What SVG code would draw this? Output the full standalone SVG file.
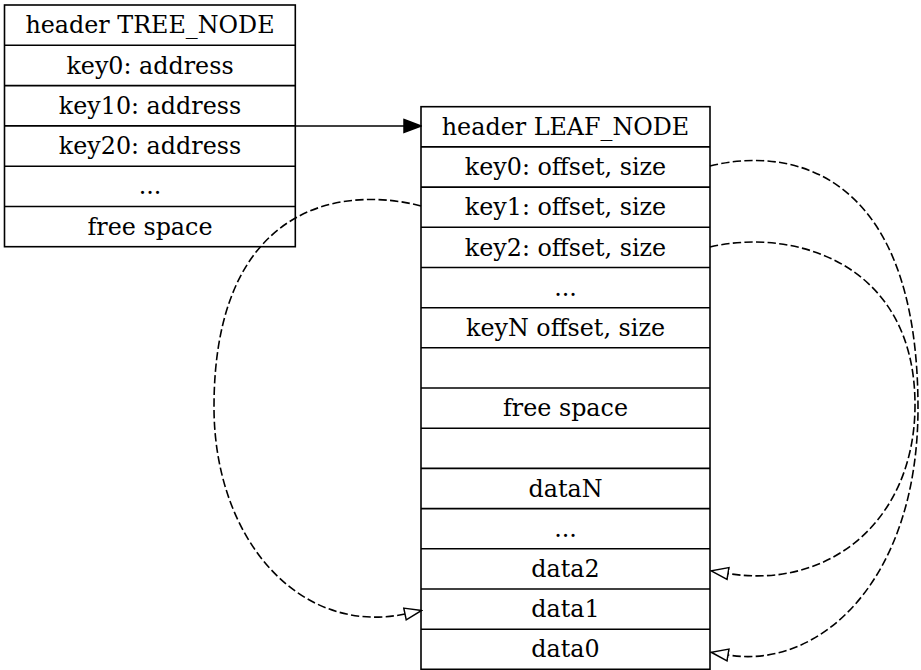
<svg xmlns="http://www.w3.org/2000/svg" width="921" height="670" viewBox="0 0 921 670">
<style>
text{font-family:"DejaVu Serif","Liberation Serif",serif;font-size:23.8px;text-anchor:middle;fill:#000}
.box{fill:#fff;stroke:#000;stroke-width:1.6}
.sep{stroke:#000;stroke-width:1.6}
.edge{fill:none;stroke:#000;stroke-width:1.6}
.dash{stroke-dasharray:8.3,3.3}
</style>
<defs>
<marker id="filled" viewBox="0 -8 19 16" refX="1" refY="0" markerWidth="19" markerHeight="16" orient="auto" markerUnits="userSpaceOnUse">
<path d="M1,-6.5 L18,0 L1,6.5 Z" fill="#000" stroke="#000" stroke-width="1.5"/>
</marker>
<marker id="open" viewBox="0 -8 19 16" refX="1" refY="0" markerWidth="19" markerHeight="16" orient="auto" markerUnits="userSpaceOnUse">
<path d="M1,-6 L18,0 L1,6 Z" fill="#fff" stroke="#000" stroke-width="1.5"/>
</marker>
</defs>
<rect width="921" height="670" fill="#fff"/>
<g id="tree_node">
<rect class="box" x="4.5" y="5" width="290.8" height="241.7"/>
<line class="sep" x1="4.5" y1="45.3" x2="295.3" y2="45.3"/>
<line class="sep" x1="4.5" y1="85.6" x2="295.3" y2="85.6"/>
<line class="sep" x1="4.5" y1="125.9" x2="295.3" y2="125.9"/>
<line class="sep" x1="4.5" y1="166.2" x2="295.3" y2="166.2"/>
<line class="sep" x1="4.5" y1="206.5" x2="295.3" y2="206.5"/>
<text x="150" y="33.3">header TREE_NODE</text>
<text x="150" y="73.5">key0: address</text>
<text x="150" y="113.8">key10: address</text>
<text x="150" y="154.1">key20: address</text>
<text x="150" y="194.4">...</text>
<text x="150" y="234.7">free space</text>
</g>
<g id="leaf_node">
<rect class="box" x="421" y="106.7" width="289" height="562.6"/>
<line class="sep" x1="421" y1="146.9" x2="710" y2="146.9"/>
<line class="sep" x1="421" y1="187.1" x2="710" y2="187.1"/>
<line class="sep" x1="421" y1="227.3" x2="710" y2="227.3"/>
<line class="sep" x1="421" y1="267.5" x2="710" y2="267.5"/>
<line class="sep" x1="421" y1="307.7" x2="710" y2="307.7"/>
<line class="sep" x1="421" y1="347.8" x2="710" y2="347.8"/>
<line class="sep" x1="421" y1="388" x2="710" y2="388"/>
<line class="sep" x1="421" y1="428.2" x2="710" y2="428.2"/>
<line class="sep" x1="421" y1="468.4" x2="710" y2="468.4"/>
<line class="sep" x1="421" y1="508.6" x2="710" y2="508.6"/>
<line class="sep" x1="421" y1="548.8" x2="710" y2="548.8"/>
<line class="sep" x1="421" y1="589" x2="710" y2="589"/>
<line class="sep" x1="421" y1="629.2" x2="710" y2="629.2"/>
<text x="565.5" y="134.9">header LEAF_NODE</text>
<text x="565.5" y="175.1">key0: offset, size</text>
<text x="565.5" y="215.3">key1: offset, size</text>
<text x="565.5" y="255.5">key2: offset, size</text>
<text x="565.5" y="295.7">...</text>
<text x="565.5" y="335.8">keyN offset, size</text>
<text x="565.5" y="416.2">free space</text>
<text x="565.5" y="496.6">dataN</text>
<text x="565.5" y="536.8">...</text>
<text x="565.5" y="577">data2</text>
<text x="565.5" y="617.2">data1</text>
<text x="565.5" y="657.4">data0</text>
</g>
<g id="connectors">
<path class="edge" d="M295.3,126 L404,126" marker-end="url(#filled)"/>
<path class="edge dash" d="M710,166 C790,146 918,170 918,408 C918,580 820,670 728,655" marker-end="url(#open)"/>
<path class="edge dash" d="M710,247 C790,228 915,260 915,405 C915,520 830,590 728,573.5" marker-end="url(#open)"/>
<path class="edge dash" d="M421,206 C341,185 214,205 214,407 C214,540 300,636 405,614" marker-end="url(#open)"/>
</g>
</svg>
